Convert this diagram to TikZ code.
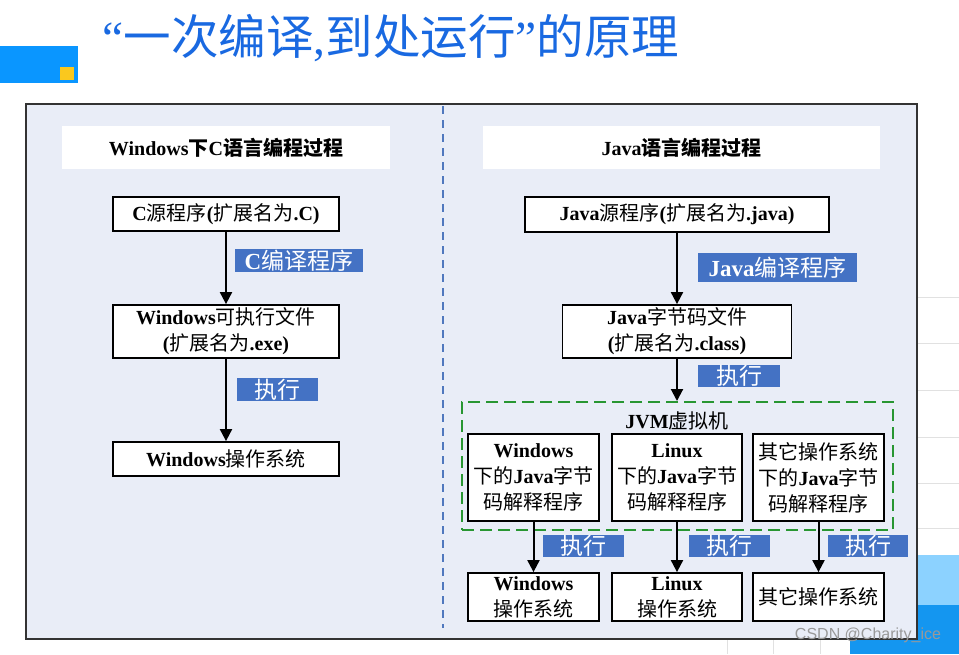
\documentclass[tikz,border=0pt]{standalone}
\usepackage{fontspec}
\setmainfont{Liberation Serif}
\newfontfamily\cjk{Noto Sans CJK SC}
\newfontfamily\wmfont{Liberation Sans}
\usetikzlibrary{arrows.meta, positioning}
\definecolor{panelfill}{RGB}{233,237,247}
\definecolor{tagblue}{RGB}{68,114,196}
\definecolor{titleblue}{RGB}{25,105,225}
\definecolor{topblue}{RGB}{10,150,255}
\definecolor{topyellow}{RGB}{250,200,30}
\definecolor{divblue}{RGB}{80,120,190}
\definecolor{jvmgreen}{RGB}{40,150,50}
\definecolor{lightblue}{RGB}{140,210,255}
\definecolor{darkblue}{RGB}{20,150,240}
\definecolor{gridgray}{RGB}{225,225,225}
\newcommand{\zh}[1]{{\cjk\mdseries #1}}
\newcommand{\zhb}[1]{{\cjk\bfseries #1}}

\begin{document}
\begin{tikzpicture}[x=1pt, y=-1pt,
  box/.style={draw=black, line width=1.8pt, fill=white, align=center, inner sep=0pt, font=\fontsize{20}{26}\selectfont\bfseries},
  head/.style={fill=white, inner sep=0pt, minimum height=43pt, font=\fontsize{20}{24}\selectfont\bfseries},
  tag/.style={fill=tagblue, text=white, inner sep=0pt, font=\fontsize{23}{26}\selectfont\bfseries},
  arr/.style={-{Triangle[width=12pt,length=12pt]}, line width=2pt}
]
  \useasboundingbox (0,0) rectangle (959,654);
  % page decoration
  \fill[topblue] (0,46) rectangle (78,83);
  \fill[topyellow] (60,67) rectangle (74,80);
  \foreach \y in {297,343,390,437,483,528}
    \draw[gridgray, line width=1pt] (917,\y) -- (959,\y);
  \foreach \x in {727,773,820}
    \draw[gridgray, line width=1pt] (\x,640) -- (\x,654);
  \fill[lightblue] (848,555) rectangle (959,605);
  \fill[darkblue] (850,605) rectangle (959,654);
  \node[text=titleblue, inner sep=0pt, font=\fontsize{47.5}{50}\selectfont] (title) at (391,38)
    {“\zh{一次编译},\zh{到处运行}”\zh{的原理}};

  % panel
  \draw[fill=panelfill, draw=black!80, line width=1.5pt] (26,104) rectangle (917,639);
  \draw[divblue, line width=1.2pt, dash pattern=on 8pt off 6pt] (443,106) -- (443,628);

  % C side
  \node[head, minimum width=328pt] (lhead) at (226,147.5) {Windows\zhb{下}C\zhb{语言编程过程}};
  \node[box, minimum width=226pt, minimum height=34pt] (csrc) at (226,214) {C\zh{源程序}(\zh{扩展名为}.C)};
  \node[box, minimum width=226pt, minimum height=53pt] (cexe) at (226,331.5) {Windows\zh{可执行文件}\\(\zh{扩展名为}.exe)};
  \node[box, minimum width=226pt, minimum height=34pt] (winos) at (226,459) {Windows\zh{操作系统}};
  \node[tag, minimum width=128pt, minimum height=23pt] (ccomp) at (299,260.5) {C\zh{编译程序}};
  \node[tag, minimum width=81pt, minimum height=23pt] (cexec) at (277.5,389.5) {\zh{执行}};
  \draw[arr] (csrc.south) -- (cexe.north);
  \draw[arr] (cexe.south) -- (winos.north);

  % Java side
  \node[head, minimum width=397pt] (rhead) at (681.5,147.5) {Java\zhb{语言编程过程}};
  \node[box, minimum width=304pt, minimum height=35pt] (jsrc) at (677,214.5) {Java\zh{源程序}(\zh{扩展名为}.java)};
  \node[box, minimum width=229pt, minimum height=53pt] (jcls) at (677,331.5) {Java\zh{字节码文件}\\(\zh{扩展名为}.class)};
  \node[tag, minimum width=159pt, minimum height=29pt] (jcomp) at (777.5,267.5) {Java\zh{编译程序}};
  \node[tag, minimum width=82pt, minimum height=22pt] (jexec) at (739,376) {\zh{执行}};
  \node[draw=jvmgreen, line width=2pt, dash pattern=on 12pt off 6pt, inner sep=0pt,
        minimum width=431pt, minimum height=128pt] (jvm) at (677.5,466) {};
  \node[inner sep=0pt, font=\fontsize{20}{24}\selectfont\bfseries] (jvmname) at (677,421) {JVM\zh{虚拟机}};
  \draw[arr] (jsrc.south) -- (jcls.north);
  \draw[arr] (jcls.south) -- (jcls.south |- jvm.north);

  \node[box, minimum width=131pt, minimum height=87pt] (iwin) at (533.5,477.5) {Windows\\\zh{下的}Java\zh{字节}\\\zh{码解释程序}};
  \node[box, minimum width=130pt, minimum height=87pt] (ilin) at (677,477.5) {Linux\\\zh{下的}Java\zh{字节}\\\zh{码解释程序}};
  \node[box, minimum width=131pt, minimum height=87pt] (ioth) at (818.5,477.5) {\zh{其它操作系统}\\\zh{下的}Java\zh{字节}\\\zh{码解释程序}};
  \node[box, minimum width=131pt, minimum height=48pt] (owin) at (533.5,597) {Windows\\\zh{操作系统}};
  \node[box, minimum width=130pt, minimum height=48pt] (olin) at (677,597) {Linux\\\zh{操作系统}};
  \node[box, minimum width=131pt, minimum height=48pt] (ooth) at (818.5,597) {\zh{其它操作系统}};
  \node[tag, minimum width=81pt, minimum height=20pt] (xwin) at (583.5,546) {\zh{执行}};
  \node[tag, minimum width=81pt, minimum height=20pt] (xlin) at (729.5,546) {\zh{执行}};
  \node[tag, minimum width=80pt, minimum height=20pt] (xoth) at (868,546) {\zh{执行}};
  \draw[arr] (iwin.south) -- (owin.north);
  \draw[arr] (ilin.south) -- (olin.north);
  \draw[arr] (ioth.south) -- (ooth.north);

  \node[text=black!40, inner sep=0pt, font=\fontsize{16}{18}\selectfont\wmfont] (mark) at (868,635) {CSDN @Charity\_ice};
\end{tikzpicture}
\end{document}
